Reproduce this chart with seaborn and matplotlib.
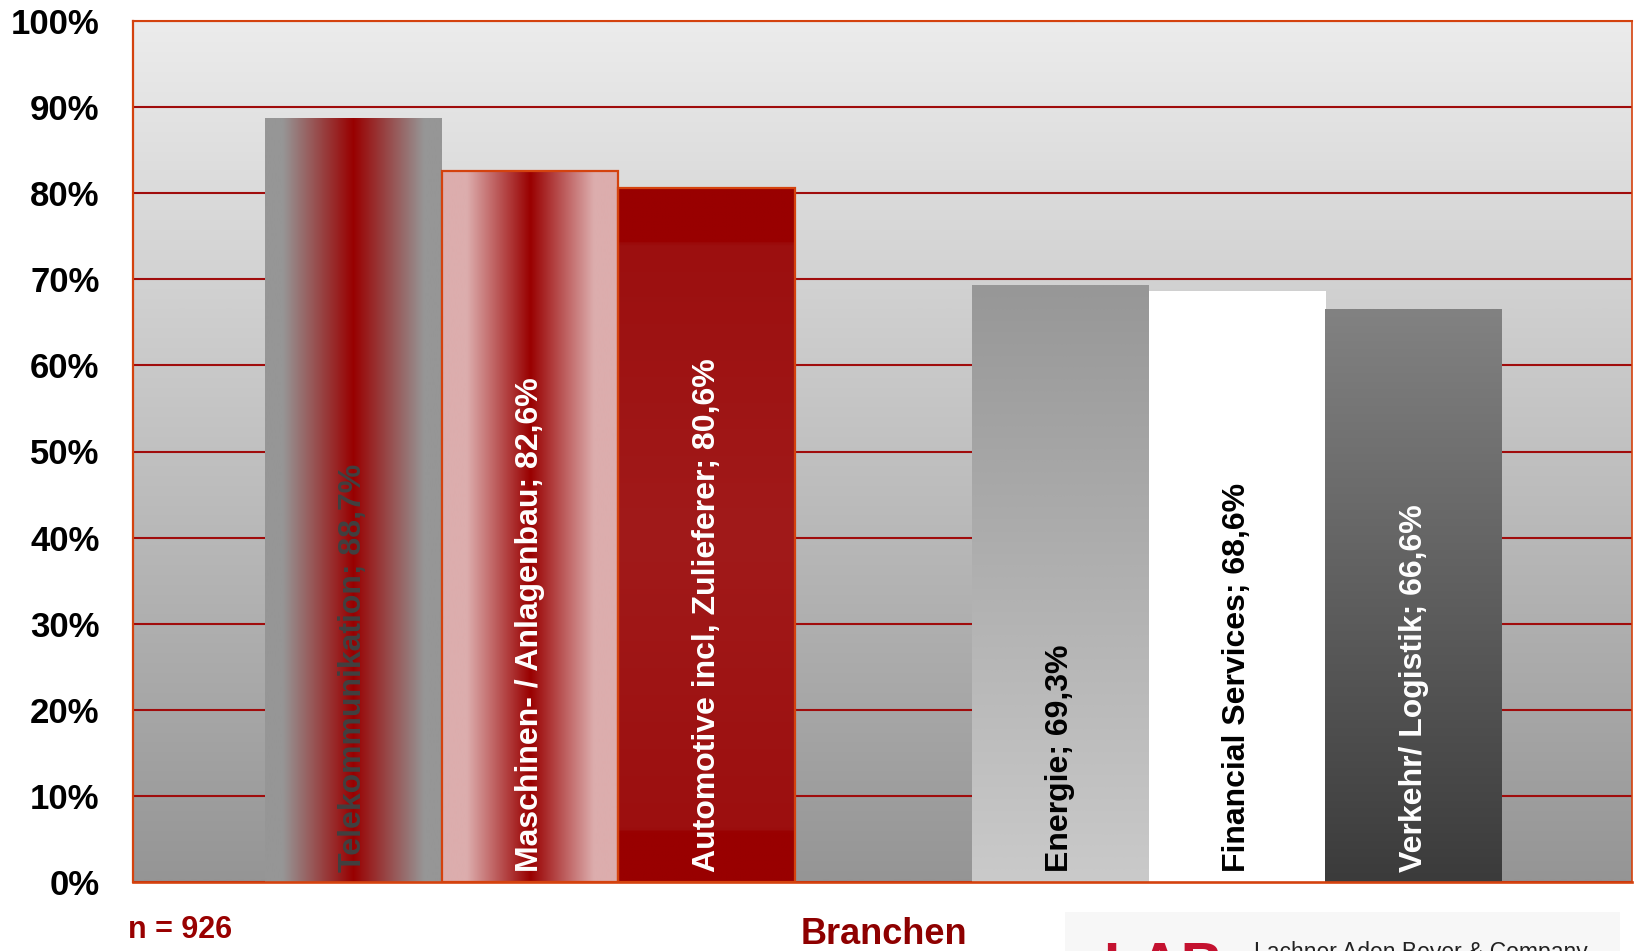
import numpy as np
import matplotlib
matplotlib.use("Agg")
import matplotlib.pyplot as plt
from matplotlib.colors import LinearSegmentedColormap
from matplotlib.patches import Rectangle
import seaborn as sns

# ---- data -------------------------------------------------------------
branchen = [
    "Telekommunikation",
    "Maschinen- / Anlagenbau",
    "Automotive incl. Zulieferer",
    "Energie",
    "Financial Services",
    "Verkehr/ Logistik",
]
anteil = [88.7, 82.6, 80.6, 69.3, 68.6, 66.6]
y_ticks = [0, 10, 20, 30, 40, 50, 60, 70, 80, 90, 100]
y_tick_labels = [f"{t}%" for t in y_ticks]
n_label = "n = 926"
axis_label = "Branchen"
firm_name = "Lachner Aden Beyer & Company"
firm_mark = "LAB"

# ---- styling ----------------------------------------------------------
sns.set_style("white")
plt.rcParams["font.family"] = ["Liberation Sans", "DejaVu Sans"]

W, H = 1634, 951
ORANGE = "#d4420e"
GRID_RED = "#a00c0c"
DARK_RED = "#990000"

# fill of each bar: direction, colour stops (0 = left/bottom), edge colour, label colour
fills = [
    ("h", [(0, "#969696"), (0.1, "#969696"), (0.5, DARK_RED), (0.9, "#969696"), (1, "#969696")], None, "#404040"),
    ("h", [(0, "#dcadad"), (0.14, "#dcadad"), (0.5, DARK_RED), (0.86, "#dcadad"), (1, "#dcadad")], ORANGE, "white"),
    ("v", [(0, DARK_RED), (0.07, DARK_RED), (0.075, "#9c0f0f"), (0.5, "#a11a1a"),
           (0.92, "#9c0f0f"), (0.925, DARK_RED), (1, DARK_RED)], ORANGE, "white"),
    ("v", [(0, "#cacaca"), (1, "#979797")], None, "black"),
    ("v", [(0, "#ffffff"), (1, "#ffffff")], None, "black"),
    ("v", [(0, "#3b3b3b"), (1, "#828282")], None, "white"),
]


def ramp(stops, n=512):
    cmap = LinearSegmentedColormap.from_list("ramp", stops)
    return cmap(np.linspace(0, 1, n))


fig = plt.figure(figsize=(W / 100, H / 100), dpi=100)
fig.patch.set_facecolor("white")
ax = fig.add_axes([133 / W, (H - 882) / H, (1632 - 133) / W, (882 - 21) / H])

# plot-area background: light grey at the top, darker towards the base
bg = ramp([(0, "#959595"), (1, "#ececec")])[:, np.newaxis, :]
ax.imshow(bg, extent=[0, 1, 0, 1], transform=ax.transAxes, origin="lower",
          aspect="auto", interpolation="bilinear", zorder=0)

# two groups of three bars with one empty slot between them
pos = [i + (i >= 3) for i in range(len(anteil))]
sns.barplot(x=pos, y=anteil, native_scale=True, width=1.0, errorbar=None,
            color="#969696", linewidth=0, ax=ax)

for patch, (direction, stops, edge, _) in zip(ax.patches, fills):
    x0, w, h = patch.get_x(), patch.get_width(), patch.get_height()
    colors = ramp(stops)
    img = colors[np.newaxis, :, :] if direction == "h" else colors[:, np.newaxis, :]
    im = ax.imshow(img, extent=[x0, x0 + w, 0, h], origin="lower", aspect="auto",
                   interpolation="bilinear", zorder=2)
    im.set_clip_path(patch)
    patch.set_facecolor("none")
    patch.set_zorder(3)
    if edge:
        patch.set_edgecolor(edge)
        patch.set_linewidth(1.6)

# value labels inside the bars
for patch, name, value, (_, _, _, tcol) in zip(ax.patches, branchen, anteil, fills):
    cx = patch.get_x() + patch.get_width() / 2
    text = f"{name}; {value:.1f}%".replace(".", ",")
    ax.annotate(text, xy=(cx, 0), xytext=(0, 7), textcoords="offset points",
                rotation=90, ha="center", va="bottom", fontsize=23,
                fontweight="bold", color=tcol, zorder=4)

# axes, grid and ticks
x_lo, x_hi = -0.5 - 132 / 177, 6.5 + 130 / 177
ax.set_xlim(x_lo, x_hi)
ax.set_ylim(0, 100)
ax.set_yticks(y_ticks)
ax.set_yticklabels(y_tick_labels, fontsize=25, fontweight="bold", color="black")
ax.set_xticks([x_lo, x_hi])
ax.set_xticklabels(["", ""])
ax.set_xlabel("")
ax.set_ylabel("")

ax.set_axisbelow(True)
ax.yaxis.grid(True, color=GRID_RED, linewidth=1.5)
ax.xaxis.grid(False)

ax.tick_params(axis="y", direction="out", length=8.6, width=1.5, color=ORANGE, pad=15.5)
ax.tick_params(axis="x", direction="out", length=8, width=1.5, color=ORANGE)
for side, lw in {"left": 1.6, "bottom": 1.9, "top": 1.5, "right": 1.2}.items():
    ax.spines[side].set_visible(True)
    ax.spines[side].set_color(ORANGE)
    ax.spines[side].set_linewidth(lw)

# annotations below the chart
fig.text(128 / W, 1 - 938 / H, n_label, fontsize=22, fontweight="bold",
         color=DARK_RED, ha="left", va="baseline")
fig.text(884 / W, 1 - 944 / H, axis_label, fontsize=26, fontweight="bold",
         color="#8e0000", ha="center", va="baseline")

# company footer
fig.add_artist(Rectangle((1065 / W, 0), (1620 - 1065) / W, (H - 912) / H,
                         transform=fig.transFigure, facecolor="#f7f7f7",
                         edgecolor="none", zorder=0))
fig.text(1103 / W, 1 - 941 / H, firm_mark, fontsize=42, fontweight="bold",
         color="#c41230", ha="left", va="top")
fig.text(1254 / W, 1 - 941 / H, firm_name, fontsize=16.5, color="#222222",
         ha="left", va="top")

fig.savefig("out.png", dpi=100)
